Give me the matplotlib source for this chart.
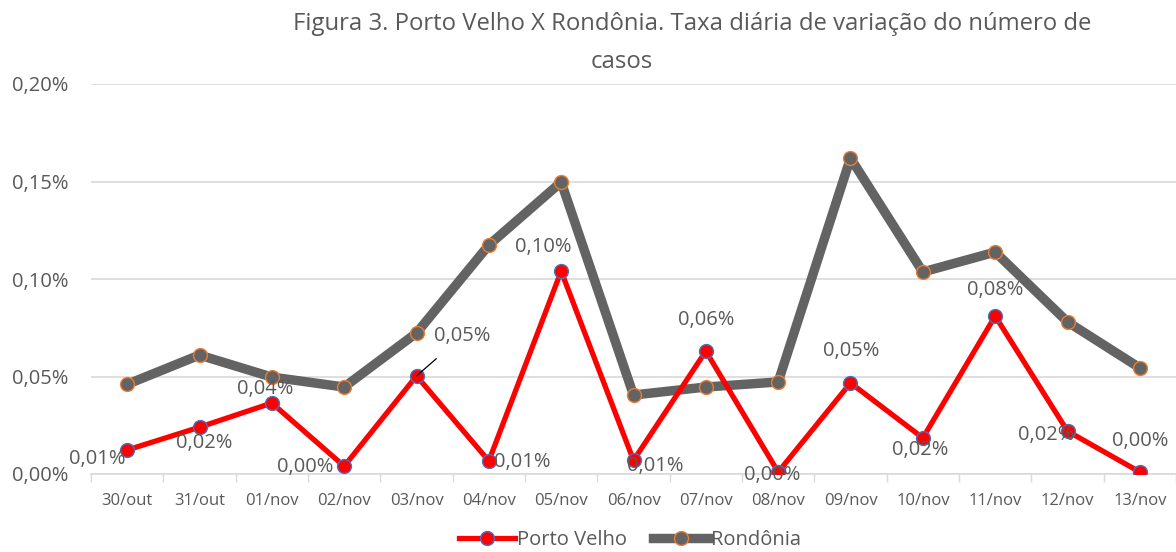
import numpy as np
import matplotlib
matplotlib.use("Agg")
import matplotlib.pyplot as plt
from matplotlib.ticker import FuncFormatter

plt.rcParams["font.family"] = ["Open Sans", "DejaVu Sans"]

dates = ["30/out", "31/out", "01/nov", "02/nov", "03/nov", "04/nov", "05/nov",
         "06/nov", "07/nov", "08/nov", "09/nov", "10/nov", "11/nov", "12/nov", "13/nov"]
# daily variation rate, in percent
porto_velho = [0.0123, 0.0240, 0.0364, 0.0040, 0.0503, 0.0067, 0.1040,
               0.0070, 0.0630, 0.0010, 0.0467, 0.0185, 0.0810, 0.0220, 0.0010]
rondonia = [0.0460, 0.0610, 0.0497, 0.0446, 0.0723, 0.1174, 0.1497,
            0.0405, 0.0446, 0.0472, 0.1620, 0.1036, 0.1138, 0.0780, 0.0544]
# data label offsets for Porto Velho (pixels, from each point)
label_dx = [-30, 5, -7, -39, 46, 33, -18, 22, 0, -6, 1, -3, 0, -21, 0]
label_dy = [-9, -16, 14, -1, 40, -1, 24, -6, 31, -3, 32, -12, 26, -4, 31]

TXT = "#595959"
fig = plt.figure(figsize=(11.76, 5.52), dpi=100)
ax = fig.add_axes([91/1176, 78/552, 1 - 91/1176, 390/552])

x = np.arange(len(dates))
ax.plot(x, porto_velho, color="#ff0000", lw=3.8, marker="o", ms=10,
        mfc="#ff0000", mec="#4472c4", mew=1.0, label="Porto Velho", zorder=4,
        solid_joinstyle="round")
ax.plot(x, rondonia, color="#636363", lw=6.8, marker="o", ms=10,
        mfc="#636363", mec="#ed7d31", mew=1.0, label="Rondônia", zorder=3,
        solid_joinstyle="round")

for i, v in enumerate(porto_velho):
    txt = f"{v:.2f}%".replace(".", ",")
    if i == 4:
        ax.annotate(txt, (x[i], v), xytext=(label_dx[i], label_dy[i]),
                    textcoords="offset pixels", ha="center", va="center",
                    fontsize=14.5, color=TXT, zorder=6,
                    arrowprops=dict(arrowstyle="-", color="black", lw=0.9,
                                    shrinkA=11, shrinkB=0))
    else:
        ax.annotate(txt, (x[i], v), xytext=(label_dx[i], label_dy[i]),
                    textcoords="offset pixels", ha="center", va="center",
                    fontsize=14.5, color=TXT, zorder=6)

ax.set_xlim(-0.5, len(dates) - 0.5)
ax.set_ylim(0, 0.20)
ax.set_yticks([0, 0.05, 0.10, 0.15, 0.20])
ax.yaxis.set_major_formatter(FuncFormatter(lambda v, p: f"{v:.2f}%".replace(".", ",")))
ax.set_xticks(x)
ax.set_xticklabels(dates)
ax.set_xticks(np.arange(-0.5, len(dates)), minor=True)
ax.tick_params(axis="x", which="major", length=0, pad=14, labelsize=12, labelcolor=TXT)
ax.tick_params(axis="x", which="minor", length=6, width=1, color="#d9d9d9")
ax.tick_params(axis="y", length=0, pad=16, labelsize=14.5, labelcolor=TXT)

ax.grid(axis="y", color="#d9d9d9", lw=1.2)
ax.set_axisbelow(True)
for s in ["top", "right", "left"]:
    ax.spines[s].set_visible(False)
ax.spines["bottom"].set_color("#d9d9d9")
ax.spines["bottom"].set_linewidth(1.2)

fig.text(692/1176, 1 - 24/552, "Figura 3. Porto Velho X Rondônia. Taxa diária de variação do número de",
         ha="center", va="center", fontsize=17.2, color=TXT)
fig.text(622/1176, 1 - 62/552, "casos", ha="center", va="center", fontsize=17.2, color=TXT)

leg = fig.legend(loc="center", bbox_to_anchor=(630/1176, 1 - 540/552), ncol=2,
                 frameon=False, fontsize=14.5, labelcolor=TXT, handlelength=2.8,
                 handletextpad=0.1, columnspacing=1.3)

plt.savefig("out.png", dpi=100)
